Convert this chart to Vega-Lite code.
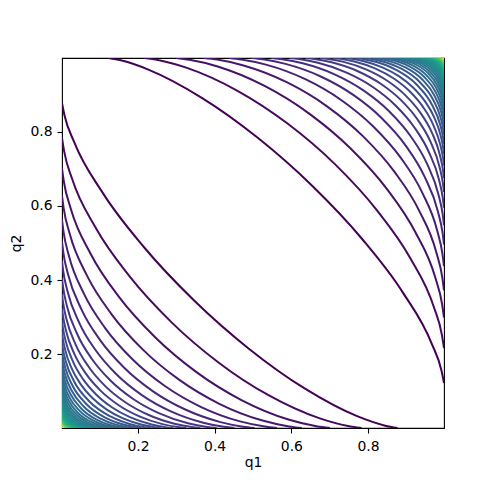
{
"$schema":"https://vega.github.io/schema/vega-lite/v6.json",
"autosize":"none",
"width":382,"height":370,
"padding":{"left":62,"top":58,"right":49,"bottom":52},
"background":"white",
"config":{"view":{"stroke":"black","strokeWidth":1.1},
"axis":{"domain":false,"grid":false,"tickColor":"black","tickWidth":1.1,"tickSize":5,"labelFont":"DejaVu Sans","labelFontSize":13.9,"labelColor":"black","titleFont":"DejaVu Sans","titleFontSize":13.9,"titleFontWeight":"normal","titleColor":"black"},
"axisX":{"labelPadding":6},"axisY":{"labelPadding":5}},
"data":{"values":[
{"l":1,"b":0,"x":0.0020,"y":0.8770},{"l":1,"b":0,"x":0.0083,"y":0.8447},{"l":1,"b":0,"x":0.0338,"y":0.7714},{"l":1,"b":0,"x":0.1091,"y":0.6335},{"l":1,"b":0,"x":0.2154,"y":0.4892},{"l":1,"b":0,"x":0.3458,"y":0.3458},{"l":1,"b":0,"x":0.4892,"y":0.2154},{"l":1,"b":0,"x":0.6335,"y":0.1091},{"l":1,"b":0,"x":0.7714,"y":0.0338},{"l":1,"b":0,"x":0.8447,"y":0.0083},{"l":1,"b":0,"x":0.8770,"y":0.0020},
{"l":1,"b":1,"x":0.9980,"y":0.1230},{"l":1,"b":1,"x":0.9917,"y":0.1553},{"l":1,"b":1,"x":0.9662,"y":0.2286},{"l":1,"b":1,"x":0.8909,"y":0.3665},{"l":1,"b":1,"x":0.7846,"y":0.5108},{"l":1,"b":1,"x":0.6542,"y":0.6542},{"l":1,"b":1,"x":0.5108,"y":0.7846},{"l":1,"b":1,"x":0.3665,"y":0.8909},{"l":1,"b":1,"x":0.2286,"y":0.9662},{"l":1,"b":1,"x":0.1553,"y":0.9917},{"l":1,"b":1,"x":0.1230,"y":0.9980},
{"l":2,"b":0,"x":0.0020,"y":0.7830},{"l":2,"b":0,"x":0.0074,"y":0.7478},{"l":2,"b":0,"x":0.0285,"y":0.6723},{"l":2,"b":0,"x":0.0902,"y":0.5404},{"l":2,"b":0,"x":0.1778,"y":0.4108},{"l":2,"b":0,"x":0.2871,"y":0.2871},{"l":2,"b":0,"x":0.4108,"y":0.1778},{"l":2,"b":0,"x":0.5404,"y":0.0902},{"l":2,"b":0,"x":0.6723,"y":0.0285},{"l":2,"b":0,"x":0.7478,"y":0.0074},{"l":2,"b":0,"x":0.7830,"y":0.0020},
{"l":2,"b":1,"x":0.9980,"y":0.2170},{"l":2,"b":1,"x":0.9926,"y":0.2522},{"l":2,"b":1,"x":0.9715,"y":0.3277},{"l":2,"b":1,"x":0.9098,"y":0.4596},{"l":2,"b":1,"x":0.8222,"y":0.5892},{"l":2,"b":1,"x":0.7129,"y":0.7129},{"l":2,"b":1,"x":0.5892,"y":0.8222},{"l":2,"b":1,"x":0.4596,"y":0.9098},{"l":2,"b":1,"x":0.3277,"y":0.9715},{"l":2,"b":1,"x":0.2522,"y":0.9926},{"l":2,"b":1,"x":0.2170,"y":0.9980},
{"l":3,"b":0,"x":0.0020,"y":0.7007},{"l":3,"b":0,"x":0.0068,"y":0.6655},{"l":3,"b":0,"x":0.0249,"y":0.5923},{"l":3,"b":0,"x":0.0772,"y":0.4698},{"l":3,"b":0,"x":0.1516,"y":0.3535},{"l":3,"b":0,"x":0.2455,"y":0.2455},{"l":3,"b":0,"x":0.3535,"y":0.1516},{"l":3,"b":0,"x":0.4698,"y":0.0772},{"l":3,"b":0,"x":0.5923,"y":0.0249},{"l":3,"b":0,"x":0.6655,"y":0.0068},{"l":3,"b":0,"x":0.7007,"y":0.0020},
{"l":3,"b":1,"x":0.9980,"y":0.2993},{"l":3,"b":1,"x":0.9932,"y":0.3345},{"l":3,"b":1,"x":0.9751,"y":0.4077},{"l":3,"b":1,"x":0.9228,"y":0.5302},{"l":3,"b":1,"x":0.8484,"y":0.6465},{"l":3,"b":1,"x":0.7545,"y":0.7545},{"l":3,"b":1,"x":0.6465,"y":0.8484},{"l":3,"b":1,"x":0.5302,"y":0.9228},{"l":3,"b":1,"x":0.4077,"y":0.9751},{"l":3,"b":1,"x":0.3345,"y":0.9932},{"l":3,"b":1,"x":0.2993,"y":0.9980},
{"l":4,"b":0,"x":0.0020,"y":0.6276},{"l":4,"b":0,"x":0.0063,"y":0.5937},{"l":4,"b":0,"x":0.0221,"y":0.5247},{"l":4,"b":0,"x":0.0672,"y":0.4121},{"l":4,"b":0,"x":0.1314,"y":0.3080},{"l":4,"b":0,"x":0.2129,"y":0.2129},{"l":4,"b":0,"x":0.3080,"y":0.1314},{"l":4,"b":0,"x":0.4121,"y":0.0672},{"l":4,"b":0,"x":0.5247,"y":0.0221},{"l":4,"b":0,"x":0.5937,"y":0.0063},{"l":4,"b":0,"x":0.6276,"y":0.0020},
{"l":4,"b":1,"x":0.9980,"y":0.3724},{"l":4,"b":1,"x":0.9937,"y":0.4063},{"l":4,"b":1,"x":0.9779,"y":0.4753},{"l":4,"b":1,"x":0.9328,"y":0.5879},{"l":4,"b":1,"x":0.8686,"y":0.6920},{"l":4,"b":1,"x":0.7871,"y":0.7871},{"l":4,"b":1,"x":0.6920,"y":0.8686},{"l":4,"b":1,"x":0.5879,"y":0.9328},{"l":4,"b":1,"x":0.4753,"y":0.9779},{"l":4,"b":1,"x":0.4063,"y":0.9937},{"l":4,"b":1,"x":0.3724,"y":0.9980},
{"l":5,"b":0,"x":0.0020,"y":0.5624},{"l":5,"b":0,"x":0.0059,"y":0.5305},{"l":5,"b":0,"x":0.0198,"y":0.4663},{"l":5,"b":0,"x":0.0591,"y":0.3636},{"l":5,"b":0,"x":0.1150,"y":0.2703},{"l":5,"b":0,"x":0.1864,"y":0.1864},{"l":5,"b":0,"x":0.2703,"y":0.1150},{"l":5,"b":0,"x":0.3636,"y":0.0591},{"l":5,"b":0,"x":0.4663,"y":0.0198},{"l":5,"b":0,"x":0.5305,"y":0.0059},{"l":5,"b":0,"x":0.5624,"y":0.0020},
{"l":5,"b":1,"x":0.9980,"y":0.4376},{"l":5,"b":1,"x":0.9941,"y":0.4695},{"l":5,"b":1,"x":0.9802,"y":0.5337},{"l":5,"b":1,"x":0.9409,"y":0.6364},{"l":5,"b":1,"x":0.8850,"y":0.7297},{"l":5,"b":1,"x":0.8136,"y":0.8136},{"l":5,"b":1,"x":0.7297,"y":0.8850},{"l":5,"b":1,"x":0.6364,"y":0.9409},{"l":5,"b":1,"x":0.5337,"y":0.9802},{"l":5,"b":1,"x":0.4695,"y":0.9941},{"l":5,"b":1,"x":0.4376,"y":0.9980},
{"l":6,"b":0,"x":0.0020,"y":0.5041},{"l":6,"b":0,"x":0.0055,"y":0.4744},{"l":6,"b":0,"x":0.0179,"y":0.4152},{"l":6,"b":0,"x":0.0524,"y":0.3220},{"l":6,"b":0,"x":0.1014,"y":0.2385},{"l":6,"b":0,"x":0.1642,"y":0.1642},{"l":6,"b":0,"x":0.2385,"y":0.1014},{"l":6,"b":0,"x":0.3220,"y":0.0524},{"l":6,"b":0,"x":0.4152,"y":0.0179},{"l":6,"b":0,"x":0.4744,"y":0.0055},{"l":6,"b":0,"x":0.5041,"y":0.0020},
{"l":6,"b":1,"x":0.9980,"y":0.4959},{"l":6,"b":1,"x":0.9945,"y":0.5256},{"l":6,"b":1,"x":0.9821,"y":0.5848},{"l":6,"b":1,"x":0.9476,"y":0.6780},{"l":6,"b":1,"x":0.8986,"y":0.7615},{"l":6,"b":1,"x":0.8358,"y":0.8358},{"l":6,"b":1,"x":0.7615,"y":0.8986},{"l":6,"b":1,"x":0.6780,"y":0.9476},{"l":6,"b":1,"x":0.5848,"y":0.9821},{"l":6,"b":1,"x":0.5256,"y":0.9945},{"l":6,"b":1,"x":0.4959,"y":0.9980},
{"l":7,"b":0,"x":0.0020,"y":0.4519},{"l":7,"b":0,"x":0.0052,"y":0.4244},{"l":7,"b":0,"x":0.0163,"y":0.3703},{"l":7,"b":0,"x":0.0467,"y":0.2859},{"l":7,"b":0,"x":0.0899,"y":0.2112},{"l":7,"b":0,"x":0.1452,"y":0.1452},{"l":7,"b":0,"x":0.2112,"y":0.0899},{"l":7,"b":0,"x":0.2859,"y":0.0467},{"l":7,"b":0,"x":0.3703,"y":0.0163},{"l":7,"b":0,"x":0.4244,"y":0.0052},{"l":7,"b":0,"x":0.4519,"y":0.0020},
{"l":7,"b":1,"x":0.9980,"y":0.5481},{"l":7,"b":1,"x":0.9948,"y":0.5756},{"l":7,"b":1,"x":0.9837,"y":0.6297},{"l":7,"b":1,"x":0.9533,"y":0.7141},{"l":7,"b":1,"x":0.9101,"y":0.7888},{"l":7,"b":1,"x":0.8548,"y":0.8548},{"l":7,"b":1,"x":0.7888,"y":0.9101},{"l":7,"b":1,"x":0.7141,"y":0.9533},{"l":7,"b":1,"x":0.6297,"y":0.9837},{"l":7,"b":1,"x":0.5756,"y":0.9948},{"l":7,"b":1,"x":0.5481,"y":0.9980},
{"l":8,"b":0,"x":0.0020,"y":0.4051},{"l":8,"b":0,"x":0.0050,"y":0.3799},{"l":8,"b":0,"x":0.0148,"y":0.3305},{"l":8,"b":0,"x":0.0419,"y":0.2544},{"l":8,"b":0,"x":0.0800,"y":0.1876},{"l":8,"b":0,"x":0.1290,"y":0.1290},{"l":8,"b":0,"x":0.1876,"y":0.0800},{"l":8,"b":0,"x":0.2544,"y":0.0419},{"l":8,"b":0,"x":0.3305,"y":0.0148},{"l":8,"b":0,"x":0.3799,"y":0.0050},{"l":8,"b":0,"x":0.4051,"y":0.0020},
{"l":8,"b":1,"x":0.9980,"y":0.5949},{"l":8,"b":1,"x":0.9950,"y":0.6201},{"l":8,"b":1,"x":0.9852,"y":0.6695},{"l":8,"b":1,"x":0.9581,"y":0.7456},{"l":8,"b":1,"x":0.9200,"y":0.8124},{"l":8,"b":1,"x":0.8710,"y":0.8710},{"l":8,"b":1,"x":0.8124,"y":0.9200},{"l":8,"b":1,"x":0.7456,"y":0.9581},{"l":8,"b":1,"x":0.6695,"y":0.9852},{"l":8,"b":1,"x":0.6201,"y":0.9950},{"l":8,"b":1,"x":0.5949,"y":0.9980},
{"l":9,"b":0,"x":0.0020,"y":0.3630},{"l":9,"b":0,"x":0.0047,"y":0.3401},{"l":9,"b":0,"x":0.0136,"y":0.2953},{"l":9,"b":0,"x":0.0376,"y":0.2267},{"l":9,"b":0,"x":0.0714,"y":0.1670},{"l":9,"b":0,"x":0.1148,"y":0.1148},{"l":9,"b":0,"x":0.1670,"y":0.0714},{"l":9,"b":0,"x":0.2267,"y":0.0376},{"l":9,"b":0,"x":0.2953,"y":0.0136},{"l":9,"b":0,"x":0.3401,"y":0.0047},{"l":9,"b":0,"x":0.3630,"y":0.0020},
{"l":9,"b":1,"x":0.9980,"y":0.6370},{"l":9,"b":1,"x":0.9953,"y":0.6599},{"l":9,"b":1,"x":0.9864,"y":0.7047},{"l":9,"b":1,"x":0.9624,"y":0.7733},{"l":9,"b":1,"x":0.9286,"y":0.8330},{"l":9,"b":1,"x":0.8852,"y":0.8852},{"l":9,"b":1,"x":0.8330,"y":0.9286},{"l":9,"b":1,"x":0.7733,"y":0.9624},{"l":9,"b":1,"x":0.7047,"y":0.9864},{"l":9,"b":1,"x":0.6599,"y":0.9953},{"l":9,"b":1,"x":0.6370,"y":0.9980},
{"l":10,"b":0,"x":0.0020,"y":0.3253},{"l":10,"b":0,"x":0.0045,"y":0.3044},{"l":10,"b":0,"x":0.0125,"y":0.2639},{"l":10,"b":0,"x":0.0339,"y":0.2022},{"l":10,"b":0,"x":0.0639,"y":0.1489},{"l":10,"b":0,"x":0.1025,"y":0.1025},{"l":10,"b":0,"x":0.1489,"y":0.0639},{"l":10,"b":0,"x":0.2022,"y":0.0339},{"l":10,"b":0,"x":0.2639,"y":0.0125},{"l":10,"b":0,"x":0.3044,"y":0.0045},{"l":10,"b":0,"x":0.3253,"y":0.0020},
{"l":10,"b":1,"x":0.9980,"y":0.6747},{"l":10,"b":1,"x":0.9955,"y":0.6956},{"l":10,"b":1,"x":0.9875,"y":0.7361},{"l":10,"b":1,"x":0.9661,"y":0.7978},{"l":10,"b":1,"x":0.9361,"y":0.8511},{"l":10,"b":1,"x":0.8975,"y":0.8975},{"l":10,"b":1,"x":0.8511,"y":0.9361},{"l":10,"b":1,"x":0.7978,"y":0.9661},{"l":10,"b":1,"x":0.7361,"y":0.9875},{"l":10,"b":1,"x":0.6956,"y":0.9955},{"l":10,"b":1,"x":0.6747,"y":0.9980},
{"l":11,"b":0,"x":0.0020,"y":0.2914},{"l":11,"b":0,"x":0.0043,"y":0.2725},{"l":11,"b":0,"x":0.0116,"y":0.2359},{"l":11,"b":0,"x":0.0307,"y":0.1806},{"l":11,"b":0,"x":0.0573,"y":0.1329},{"l":11,"b":0,"x":0.0916,"y":0.0916},{"l":11,"b":0,"x":0.1329,"y":0.0573},{"l":11,"b":0,"x":0.1806,"y":0.0307},{"l":11,"b":0,"x":0.2359,"y":0.0116},{"l":11,"b":0,"x":0.2725,"y":0.0043},{"l":11,"b":0,"x":0.2914,"y":0.0020},
{"l":11,"b":1,"x":0.9980,"y":0.7086},{"l":11,"b":1,"x":0.9957,"y":0.7275},{"l":11,"b":1,"x":0.9884,"y":0.7641},{"l":11,"b":1,"x":0.9693,"y":0.8194},{"l":11,"b":1,"x":0.9427,"y":0.8671},{"l":11,"b":1,"x":0.9084,"y":0.9084},{"l":11,"b":1,"x":0.8671,"y":0.9427},{"l":11,"b":1,"x":0.8194,"y":0.9693},{"l":11,"b":1,"x":0.7641,"y":0.9884},{"l":11,"b":1,"x":0.7275,"y":0.9957},{"l":11,"b":1,"x":0.7086,"y":0.9980},
{"l":12,"b":0,"x":0.0020,"y":0.2610},{"l":12,"b":0,"x":0.0041,"y":0.2439},{"l":12,"b":0,"x":0.0107,"y":0.2110},{"l":12,"b":0,"x":0.0278,"y":0.1613},{"l":12,"b":0,"x":0.0515,"y":0.1188},{"l":12,"b":0,"x":0.0820,"y":0.0820},{"l":12,"b":0,"x":0.1188,"y":0.0515},{"l":12,"b":0,"x":0.1613,"y":0.0278},{"l":12,"b":0,"x":0.2110,"y":0.0107},{"l":12,"b":0,"x":0.2439,"y":0.0041},{"l":12,"b":0,"x":0.2610,"y":0.0020},
{"l":12,"b":1,"x":0.9980,"y":0.7390},{"l":12,"b":1,"x":0.9959,"y":0.7561},{"l":12,"b":1,"x":0.9893,"y":0.7890},{"l":12,"b":1,"x":0.9722,"y":0.8387},{"l":12,"b":1,"x":0.9485,"y":0.8812},{"l":12,"b":1,"x":0.9180,"y":0.9180},{"l":12,"b":1,"x":0.8812,"y":0.9485},{"l":12,"b":1,"x":0.8387,"y":0.9722},{"l":12,"b":1,"x":0.7890,"y":0.9893},{"l":12,"b":1,"x":0.7561,"y":0.9959},{"l":12,"b":1,"x":0.7390,"y":0.9980},
{"l":13,"b":0,"x":0.0020,"y":0.2337},{"l":13,"b":0,"x":0.0046,"y":0.2145},{"l":13,"b":0,"x":0.0129,"y":0.1780},{"l":13,"b":0,"x":0.0330,"y":0.1285},{"l":13,"b":0,"x":0.0735,"y":0.0735},{"l":13,"b":0,"x":0.1285,"y":0.0330},{"l":13,"b":0,"x":0.1780,"y":0.0129},{"l":13,"b":0,"x":0.2145,"y":0.0046},{"l":13,"b":0,"x":0.2337,"y":0.0020},
{"l":13,"b":1,"x":0.9980,"y":0.7663},{"l":13,"b":1,"x":0.9954,"y":0.7855},{"l":13,"b":1,"x":0.9871,"y":0.8220},{"l":13,"b":1,"x":0.9670,"y":0.8715},{"l":13,"b":1,"x":0.9265,"y":0.9265},{"l":13,"b":1,"x":0.8715,"y":0.9670},{"l":13,"b":1,"x":0.8220,"y":0.9871},{"l":13,"b":1,"x":0.7855,"y":0.9954},{"l":13,"b":1,"x":0.7663,"y":0.9980},
{"l":14,"b":0,"x":0.0020,"y":0.2091},{"l":14,"b":0,"x":0.0044,"y":0.1919},{"l":14,"b":0,"x":0.0119,"y":0.1592},{"l":14,"b":0,"x":0.0299,"y":0.1149},{"l":14,"b":0,"x":0.0660,"y":0.0660},{"l":14,"b":0,"x":0.1149,"y":0.0299},{"l":14,"b":0,"x":0.1592,"y":0.0119},{"l":14,"b":0,"x":0.1919,"y":0.0044},{"l":14,"b":0,"x":0.2091,"y":0.0020},
{"l":14,"b":1,"x":0.9980,"y":0.7909},{"l":14,"b":1,"x":0.9956,"y":0.8081},{"l":14,"b":1,"x":0.9881,"y":0.8408},{"l":14,"b":1,"x":0.9701,"y":0.8851},{"l":14,"b":1,"x":0.9340,"y":0.9340},{"l":14,"b":1,"x":0.8851,"y":0.9701},{"l":14,"b":1,"x":0.8408,"y":0.9881},{"l":14,"b":1,"x":0.8081,"y":0.9956},{"l":14,"b":1,"x":0.7909,"y":0.9980},
{"l":15,"b":0,"x":0.0020,"y":0.1870},{"l":15,"b":0,"x":0.0042,"y":0.1716},{"l":15,"b":0,"x":0.0110,"y":0.1423},{"l":15,"b":0,"x":0.0271,"y":0.1029},{"l":15,"b":0,"x":0.0593,"y":0.0593},{"l":15,"b":0,"x":0.1029,"y":0.0271},{"l":15,"b":0,"x":0.1423,"y":0.0110},{"l":15,"b":0,"x":0.1716,"y":0.0042},{"l":15,"b":0,"x":0.1870,"y":0.0020},
{"l":15,"b":1,"x":0.9980,"y":0.8130},{"l":15,"b":1,"x":0.9958,"y":0.8284},{"l":15,"b":1,"x":0.9890,"y":0.8577},{"l":15,"b":1,"x":0.9729,"y":0.8971},{"l":15,"b":1,"x":0.9407,"y":0.9407},{"l":15,"b":1,"x":0.8971,"y":0.9729},{"l":15,"b":1,"x":0.8577,"y":0.9890},{"l":15,"b":1,"x":0.8284,"y":0.9958},{"l":15,"b":1,"x":0.8130,"y":0.9980},
{"l":16,"b":0,"x":0.0020,"y":0.1672},{"l":16,"b":0,"x":0.0040,"y":0.1534},{"l":16,"b":0,"x":0.0102,"y":0.1273},{"l":16,"b":0,"x":0.0247,"y":0.0921},{"l":16,"b":0,"x":0.0533,"y":0.0533},{"l":16,"b":0,"x":0.0921,"y":0.0247},{"l":16,"b":0,"x":0.1273,"y":0.0102},{"l":16,"b":0,"x":0.1534,"y":0.0040},{"l":16,"b":0,"x":0.1672,"y":0.0020},
{"l":16,"b":1,"x":0.9980,"y":0.8328},{"l":16,"b":1,"x":0.9960,"y":0.8466},{"l":16,"b":1,"x":0.9898,"y":0.8727},{"l":16,"b":1,"x":0.9753,"y":0.9079},{"l":16,"b":1,"x":0.9467,"y":0.9467},{"l":16,"b":1,"x":0.9079,"y":0.9753},{"l":16,"b":1,"x":0.8727,"y":0.9898},{"l":16,"b":1,"x":0.8466,"y":0.9960},{"l":16,"b":1,"x":0.8328,"y":0.9980},
{"l":17,"b":0,"x":0.0020,"y":0.1494},{"l":17,"b":0,"x":0.0039,"y":0.1371},{"l":17,"b":0,"x":0.0095,"y":0.1138},{"l":17,"b":0,"x":0.0224,"y":0.0825},{"l":17,"b":0,"x":0.0480,"y":0.0480},{"l":17,"b":0,"x":0.0825,"y":0.0224},{"l":17,"b":0,"x":0.1138,"y":0.0095},{"l":17,"b":0,"x":0.1371,"y":0.0039},{"l":17,"b":0,"x":0.1494,"y":0.0020},
{"l":17,"b":1,"x":0.9980,"y":0.8506},{"l":17,"b":1,"x":0.9961,"y":0.8629},{"l":17,"b":1,"x":0.9905,"y":0.8862},{"l":17,"b":1,"x":0.9776,"y":0.9175},{"l":17,"b":1,"x":0.9520,"y":0.9520},{"l":17,"b":1,"x":0.9175,"y":0.9776},{"l":17,"b":1,"x":0.8862,"y":0.9905},{"l":17,"b":1,"x":0.8629,"y":0.9961},{"l":17,"b":1,"x":0.8506,"y":0.9980},
{"l":18,"b":0,"x":0.0020,"y":0.1334},{"l":18,"b":0,"x":0.0037,"y":0.1225},{"l":18,"b":0,"x":0.0088,"y":0.1017},{"l":18,"b":0,"x":0.0205,"y":0.0738},{"l":18,"b":0,"x":0.0432,"y":0.0432},{"l":18,"b":0,"x":0.0738,"y":0.0205},{"l":18,"b":0,"x":0.1017,"y":0.0088},{"l":18,"b":0,"x":0.1225,"y":0.0037},{"l":18,"b":0,"x":0.1334,"y":0.0020},
{"l":18,"b":1,"x":0.9980,"y":0.8666},{"l":18,"b":1,"x":0.9963,"y":0.8775},{"l":18,"b":1,"x":0.9912,"y":0.8983},{"l":18,"b":1,"x":0.9795,"y":0.9262},{"l":18,"b":1,"x":0.9568,"y":0.9568},{"l":18,"b":1,"x":0.9262,"y":0.9795},{"l":18,"b":1,"x":0.8983,"y":0.9912},{"l":18,"b":1,"x":0.8775,"y":0.9963},{"l":18,"b":1,"x":0.8666,"y":0.9980},
{"l":19,"b":0,"x":0.0020,"y":0.1191},{"l":19,"b":0,"x":0.0036,"y":0.1093},{"l":19,"b":0,"x":0.0082,"y":0.0909},{"l":19,"b":0,"x":0.0187,"y":0.0661},{"l":19,"b":0,"x":0.0389,"y":0.0389},{"l":19,"b":0,"x":0.0661,"y":0.0187},{"l":19,"b":0,"x":0.0909,"y":0.0082},{"l":19,"b":0,"x":0.1093,"y":0.0036},{"l":19,"b":0,"x":0.1191,"y":0.0020},
{"l":19,"b":1,"x":0.9980,"y":0.8809},{"l":19,"b":1,"x":0.9964,"y":0.8907},{"l":19,"b":1,"x":0.9918,"y":0.9091},{"l":19,"b":1,"x":0.9813,"y":0.9339},{"l":19,"b":1,"x":0.9611,"y":0.9611},{"l":19,"b":1,"x":0.9339,"y":0.9813},{"l":19,"b":1,"x":0.9091,"y":0.9918},{"l":19,"b":1,"x":0.8907,"y":0.9964},{"l":19,"b":1,"x":0.8809,"y":0.9980},
{"l":20,"b":0,"x":0.0020,"y":0.1062},{"l":20,"b":0,"x":0.0035,"y":0.0975},{"l":20,"b":0,"x":0.0077,"y":0.0812},{"l":20,"b":0,"x":0.0170,"y":0.0592},{"l":20,"b":0,"x":0.0351,"y":0.0351},{"l":20,"b":0,"x":0.0592,"y":0.0170},{"l":20,"b":0,"x":0.0812,"y":0.0077},{"l":20,"b":0,"x":0.0975,"y":0.0035},{"l":20,"b":0,"x":0.1062,"y":0.0020},
{"l":20,"b":1,"x":0.9980,"y":0.8938},{"l":20,"b":1,"x":0.9965,"y":0.9025},{"l":20,"b":1,"x":0.9923,"y":0.9188},{"l":20,"b":1,"x":0.9830,"y":0.9408},{"l":20,"b":1,"x":0.9649,"y":0.9649},{"l":20,"b":1,"x":0.9408,"y":0.9830},{"l":20,"b":1,"x":0.9188,"y":0.9923},{"l":20,"b":1,"x":0.9025,"y":0.9965},{"l":20,"b":1,"x":0.8938,"y":0.9980},
{"l":21,"b":0,"x":0.0020,"y":0.0947},{"l":21,"b":0,"x":0.0034,"y":0.0870},{"l":21,"b":0,"x":0.0072,"y":0.0725},{"l":21,"b":0,"x":0.0156,"y":0.0530},{"l":21,"b":0,"x":0.0316,"y":0.0316},{"l":21,"b":0,"x":0.0530,"y":0.0156},{"l":21,"b":0,"x":0.0725,"y":0.0072},{"l":21,"b":0,"x":0.0870,"y":0.0034},{"l":21,"b":0,"x":0.0947,"y":0.0020},
{"l":21,"b":1,"x":0.9980,"y":0.9053},{"l":21,"b":1,"x":0.9966,"y":0.9130},{"l":21,"b":1,"x":0.9928,"y":0.9275},{"l":21,"b":1,"x":0.9844,"y":0.9470},{"l":21,"b":1,"x":0.9684,"y":0.9684},{"l":21,"b":1,"x":0.9470,"y":0.9844},{"l":21,"b":1,"x":0.9275,"y":0.9928},{"l":21,"b":1,"x":0.9130,"y":0.9966},{"l":21,"b":1,"x":0.9053,"y":0.9980},
{"l":22,"b":0,"x":0.0020,"y":0.0843},{"l":22,"b":0,"x":0.0033,"y":0.0775},{"l":22,"b":0,"x":0.0067,"y":0.0647},{"l":22,"b":0,"x":0.0143,"y":0.0475},{"l":22,"b":0,"x":0.0285,"y":0.0285},{"l":22,"b":0,"x":0.0475,"y":0.0143},{"l":22,"b":0,"x":0.0647,"y":0.0067},{"l":22,"b":0,"x":0.0775,"y":0.0033},{"l":22,"b":0,"x":0.0843,"y":0.0020},
{"l":22,"b":1,"x":0.9980,"y":0.9157},{"l":22,"b":1,"x":0.9967,"y":0.9225},{"l":22,"b":1,"x":0.9933,"y":0.9353},{"l":22,"b":1,"x":0.9857,"y":0.9525},{"l":22,"b":1,"x":0.9715,"y":0.9715},{"l":22,"b":1,"x":0.9525,"y":0.9857},{"l":22,"b":1,"x":0.9353,"y":0.9933},{"l":22,"b":1,"x":0.9225,"y":0.9967},{"l":22,"b":1,"x":0.9157,"y":0.9980},
{"l":23,"b":0,"x":0.0020,"y":0.0750},{"l":23,"b":0,"x":0.0032,"y":0.0690},{"l":23,"b":0,"x":0.0063,"y":0.0577},{"l":23,"b":0,"x":0.0131,"y":0.0425},{"l":23,"b":0,"x":0.0257,"y":0.0257},{"l":23,"b":0,"x":0.0425,"y":0.0131},{"l":23,"b":0,"x":0.0577,"y":0.0063},{"l":23,"b":0,"x":0.0690,"y":0.0032},{"l":23,"b":0,"x":0.0750,"y":0.0020},
{"l":23,"b":1,"x":0.9980,"y":0.9250},{"l":23,"b":1,"x":0.9968,"y":0.9310},{"l":23,"b":1,"x":0.9937,"y":0.9423},{"l":23,"b":1,"x":0.9869,"y":0.9575},{"l":23,"b":1,"x":0.9743,"y":0.9743},{"l":23,"b":1,"x":0.9575,"y":0.9869},{"l":23,"b":1,"x":0.9423,"y":0.9937},{"l":23,"b":1,"x":0.9310,"y":0.9968},{"l":23,"b":1,"x":0.9250,"y":0.9980},
{"l":24,"b":0,"x":0.0020,"y":0.0667},{"l":24,"b":0,"x":0.0031,"y":0.0614},{"l":24,"b":0,"x":0.0060,"y":0.0514},{"l":24,"b":0,"x":0.0120,"y":0.0380},{"l":24,"b":0,"x":0.0232,"y":0.0232},{"l":24,"b":0,"x":0.0380,"y":0.0120},{"l":24,"b":0,"x":0.0514,"y":0.0060},{"l":24,"b":0,"x":0.0614,"y":0.0031},{"l":24,"b":0,"x":0.0667,"y":0.0020},
{"l":24,"b":1,"x":0.9980,"y":0.9333},{"l":24,"b":1,"x":0.9969,"y":0.9386},{"l":24,"b":1,"x":0.9940,"y":0.9486},{"l":24,"b":1,"x":0.9880,"y":0.9620},{"l":24,"b":1,"x":0.9768,"y":0.9768},{"l":24,"b":1,"x":0.9620,"y":0.9880},{"l":24,"b":1,"x":0.9486,"y":0.9940},{"l":24,"b":1,"x":0.9386,"y":0.9969},{"l":24,"b":1,"x":0.9333,"y":0.9980},
{"l":25,"b":0,"x":0.0020,"y":0.0592},{"l":25,"b":0,"x":0.0042,"y":0.0501},{"l":25,"b":0,"x":0.0110,"y":0.0340},{"l":25,"b":0,"x":0.0210,"y":0.0210},{"l":25,"b":0,"x":0.0340,"y":0.0110},{"l":25,"b":0,"x":0.0501,"y":0.0042},{"l":25,"b":0,"x":0.0592,"y":0.0020},
{"l":25,"b":1,"x":0.9980,"y":0.9408},{"l":25,"b":1,"x":0.9958,"y":0.9499},{"l":25,"b":1,"x":0.9890,"y":0.9660},{"l":25,"b":1,"x":0.9790,"y":0.9790},{"l":25,"b":1,"x":0.9660,"y":0.9890},{"l":25,"b":1,"x":0.9499,"y":0.9958},{"l":25,"b":1,"x":0.9408,"y":0.9980},
{"l":26,"b":0,"x":0.0020,"y":0.0526},{"l":26,"b":0,"x":0.0040,"y":0.0445},{"l":26,"b":0,"x":0.0101,"y":0.0304},{"l":26,"b":0,"x":0.0189,"y":0.0189},{"l":26,"b":0,"x":0.0304,"y":0.0101},{"l":26,"b":0,"x":0.0445,"y":0.0040},{"l":26,"b":0,"x":0.0526,"y":0.0020},
{"l":26,"b":1,"x":0.9980,"y":0.9474},{"l":26,"b":1,"x":0.9960,"y":0.9555},{"l":26,"b":1,"x":0.9899,"y":0.9696},{"l":26,"b":1,"x":0.9811,"y":0.9811},{"l":26,"b":1,"x":0.9696,"y":0.9899},{"l":26,"b":1,"x":0.9555,"y":0.9960},{"l":26,"b":1,"x":0.9474,"y":0.9980},
{"l":27,"b":0,"x":0.0020,"y":0.0466},{"l":27,"b":0,"x":0.0038,"y":0.0396},{"l":27,"b":0,"x":0.0093,"y":0.0272},{"l":27,"b":0,"x":0.0171,"y":0.0171},{"l":27,"b":0,"x":0.0272,"y":0.0093},{"l":27,"b":0,"x":0.0396,"y":0.0038},{"l":27,"b":0,"x":0.0466,"y":0.0020},
{"l":27,"b":1,"x":0.9980,"y":0.9534},{"l":27,"b":1,"x":0.9962,"y":0.9604},{"l":27,"b":1,"x":0.9907,"y":0.9728},{"l":27,"b":1,"x":0.9829,"y":0.9829},{"l":27,"b":1,"x":0.9728,"y":0.9907},{"l":27,"b":1,"x":0.9604,"y":0.9962},{"l":27,"b":1,"x":0.9534,"y":0.9980},
{"l":28,"b":0,"x":0.0020,"y":0.0412},{"l":28,"b":0,"x":0.0037,"y":0.0351},{"l":28,"b":0,"x":0.0086,"y":0.0243},{"l":28,"b":0,"x":0.0154,"y":0.0154},{"l":28,"b":0,"x":0.0243,"y":0.0086},{"l":28,"b":0,"x":0.0351,"y":0.0037},{"l":28,"b":0,"x":0.0412,"y":0.0020},
{"l":28,"b":1,"x":0.9980,"y":0.9588},{"l":28,"b":1,"x":0.9963,"y":0.9649},{"l":28,"b":1,"x":0.9914,"y":0.9757},{"l":28,"b":1,"x":0.9846,"y":0.9846},{"l":28,"b":1,"x":0.9757,"y":0.9914},{"l":28,"b":1,"x":0.9649,"y":0.9963},{"l":28,"b":1,"x":0.9588,"y":0.9980},
{"l":29,"b":0,"x":0.0020,"y":0.0364},{"l":29,"b":0,"x":0.0035,"y":0.0311},{"l":29,"b":0,"x":0.0079,"y":0.0217},{"l":29,"b":0,"x":0.0140,"y":0.0140},{"l":29,"b":0,"x":0.0217,"y":0.0079},{"l":29,"b":0,"x":0.0311,"y":0.0035},{"l":29,"b":0,"x":0.0364,"y":0.0020},
{"l":29,"b":1,"x":0.9980,"y":0.9636},{"l":29,"b":1,"x":0.9965,"y":0.9689},{"l":29,"b":1,"x":0.9921,"y":0.9783},{"l":29,"b":1,"x":0.9860,"y":0.9860},{"l":29,"b":1,"x":0.9783,"y":0.9921},{"l":29,"b":1,"x":0.9689,"y":0.9965},{"l":29,"b":1,"x":0.9636,"y":0.9980},
{"l":30,"b":0,"x":0.0020,"y":0.0322},{"l":30,"b":0,"x":0.0034,"y":0.0275},{"l":30,"b":0,"x":0.0073,"y":0.0194},{"l":30,"b":0,"x":0.0126,"y":0.0126},{"l":30,"b":0,"x":0.0194,"y":0.0073},{"l":30,"b":0,"x":0.0275,"y":0.0034},{"l":30,"b":0,"x":0.0322,"y":0.0020},
{"l":30,"b":1,"x":0.9980,"y":0.9678},{"l":30,"b":1,"x":0.9966,"y":0.9725},{"l":30,"b":1,"x":0.9927,"y":0.9806},{"l":30,"b":1,"x":0.9874,"y":0.9874},{"l":30,"b":1,"x":0.9806,"y":0.9927},{"l":30,"b":1,"x":0.9725,"y":0.9966},{"l":30,"b":1,"x":0.9678,"y":0.9980},
{"l":31,"b":0,"x":0.0020,"y":0.0283},{"l":31,"b":0,"x":0.0033,"y":0.0244},{"l":31,"b":0,"x":0.0067,"y":0.0173},{"l":31,"b":0,"x":0.0114,"y":0.0114},{"l":31,"b":0,"x":0.0173,"y":0.0067},{"l":31,"b":0,"x":0.0244,"y":0.0033},{"l":31,"b":0,"x":0.0283,"y":0.0020},
{"l":31,"b":1,"x":0.9980,"y":0.9717},{"l":31,"b":1,"x":0.9967,"y":0.9756},{"l":31,"b":1,"x":0.9933,"y":0.9827},{"l":31,"b":1,"x":0.9886,"y":0.9886},{"l":31,"b":1,"x":0.9827,"y":0.9933},{"l":31,"b":1,"x":0.9756,"y":0.9967},{"l":31,"b":1,"x":0.9717,"y":0.9980},
{"l":32,"b":0,"x":0.0020,"y":0.0249},{"l":32,"b":0,"x":0.0031,"y":0.0215},{"l":32,"b":0,"x":0.0062,"y":0.0154},{"l":32,"b":0,"x":0.0103,"y":0.0103},{"l":32,"b":0,"x":0.0154,"y":0.0062},{"l":32,"b":0,"x":0.0215,"y":0.0031},{"l":32,"b":0,"x":0.0249,"y":0.0020},
{"l":32,"b":1,"x":0.9980,"y":0.9751},{"l":32,"b":1,"x":0.9969,"y":0.9785},{"l":32,"b":1,"x":0.9938,"y":0.9846},{"l":32,"b":1,"x":0.9897,"y":0.9897},{"l":32,"b":1,"x":0.9846,"y":0.9938},{"l":32,"b":1,"x":0.9785,"y":0.9969},{"l":32,"b":1,"x":0.9751,"y":0.9980},
{"l":33,"b":0,"x":0.0020,"y":0.0219},{"l":33,"b":0,"x":0.0030,"y":0.0190},{"l":33,"b":0,"x":0.0057,"y":0.0137},{"l":33,"b":0,"x":0.0093,"y":0.0093},{"l":33,"b":0,"x":0.0137,"y":0.0057},{"l":33,"b":0,"x":0.0190,"y":0.0030},{"l":33,"b":0,"x":0.0219,"y":0.0020},
{"l":33,"b":1,"x":0.9980,"y":0.9781},{"l":33,"b":1,"x":0.9970,"y":0.9810},{"l":33,"b":1,"x":0.9943,"y":0.9863},{"l":33,"b":1,"x":0.9907,"y":0.9907},{"l":33,"b":1,"x":0.9863,"y":0.9943},{"l":33,"b":1,"x":0.9810,"y":0.9970},{"l":33,"b":1,"x":0.9781,"y":0.9980},
{"l":34,"b":0,"x":0.0020,"y":0.0192},{"l":34,"b":0,"x":0.0029,"y":0.0167},{"l":34,"b":0,"x":0.0053,"y":0.0122},{"l":34,"b":0,"x":0.0084,"y":0.0084},{"l":34,"b":0,"x":0.0122,"y":0.0053},{"l":34,"b":0,"x":0.0167,"y":0.0029},{"l":34,"b":0,"x":0.0192,"y":0.0020},
{"l":34,"b":1,"x":0.9980,"y":0.9808},{"l":34,"b":1,"x":0.9971,"y":0.9833},{"l":34,"b":1,"x":0.9947,"y":0.9878},{"l":34,"b":1,"x":0.9916,"y":0.9916},{"l":34,"b":1,"x":0.9878,"y":0.9947},{"l":34,"b":1,"x":0.9833,"y":0.9971},{"l":34,"b":1,"x":0.9808,"y":0.9980},
{"l":35,"b":0,"x":0.0020,"y":0.0168},{"l":35,"b":0,"x":0.0028,"y":0.0147},{"l":35,"b":0,"x":0.0049,"y":0.0109},{"l":35,"b":0,"x":0.0076,"y":0.0076},{"l":35,"b":0,"x":0.0109,"y":0.0049},{"l":35,"b":0,"x":0.0147,"y":0.0028},{"l":35,"b":0,"x":0.0168,"y":0.0020},
{"l":35,"b":1,"x":0.9980,"y":0.9832},{"l":35,"b":1,"x":0.9972,"y":0.9853},{"l":35,"b":1,"x":0.9951,"y":0.9891},{"l":35,"b":1,"x":0.9924,"y":0.9924},{"l":35,"b":1,"x":0.9891,"y":0.9951},{"l":35,"b":1,"x":0.9853,"y":0.9972},{"l":35,"b":1,"x":0.9832,"y":0.9980},
{"l":36,"b":0,"x":0.0020,"y":0.01465},{"l":36,"b":0,"x":0.00688,"y":0.00688},{"l":36,"b":0,"x":0.01465,"y":0.0020},
{"l":36,"b":1,"x":0.9980,"y":0.98535},{"l":36,"b":1,"x":0.99312,"y":0.99312},{"l":36,"b":1,"x":0.98535,"y":0.9980},
{"l":37,"b":0,"x":0.0020,"y":0.01275},{"l":37,"b":0,"x":0.00622,"y":0.00622},{"l":37,"b":0,"x":0.01275,"y":0.0020},
{"l":37,"b":1,"x":0.9980,"y":0.98725},{"l":37,"b":1,"x":0.99378,"y":0.99378},{"l":37,"b":1,"x":0.98725,"y":0.9980},
{"l":38,"b":0,"x":0.0020,"y":0.01107},{"l":38,"b":0,"x":0.00562,"y":0.00562},{"l":38,"b":0,"x":0.01107,"y":0.0020},
{"l":38,"b":1,"x":0.9980,"y":0.98893},{"l":38,"b":1,"x":0.99438,"y":0.99438},{"l":38,"b":1,"x":0.98893,"y":0.9980},
{"l":39,"b":0,"x":0.0020,"y":0.00958},{"l":39,"b":0,"x":0.00509,"y":0.00509},{"l":39,"b":0,"x":0.00958,"y":0.0020},
{"l":39,"b":1,"x":0.9980,"y":0.99042},{"l":39,"b":1,"x":0.99491,"y":0.99491},{"l":39,"b":1,"x":0.99042,"y":0.9980},
{"l":40,"b":0,"x":0.0020,"y":0.00826},{"l":40,"b":0,"x":0.00460,"y":0.00460},{"l":40,"b":0,"x":0.00826,"y":0.0020},
{"l":40,"b":1,"x":0.9980,"y":0.99174},{"l":40,"b":1,"x":0.99540,"y":0.99540},{"l":40,"b":1,"x":0.99174,"y":0.9980},
{"l":41,"b":0,"x":0.0020,"y":0.00710},{"l":41,"b":0,"x":0.00416,"y":0.00416},{"l":41,"b":0,"x":0.00710,"y":0.0020},
{"l":41,"b":1,"x":0.9980,"y":0.99290},{"l":41,"b":1,"x":0.99584,"y":0.99584},{"l":41,"b":1,"x":0.99290,"y":0.9980},
{"l":42,"b":0,"x":0.0020,"y":0.00608},{"l":42,"b":0,"x":0.00376,"y":0.00376},{"l":42,"b":0,"x":0.00608,"y":0.0020},
{"l":42,"b":1,"x":0.9980,"y":0.99392},{"l":42,"b":1,"x":0.99624,"y":0.99624},{"l":42,"b":1,"x":0.99392,"y":0.9980},
{"l":43,"b":0,"x":0.0020,"y":0.00518},{"l":43,"b":0,"x":0.00340,"y":0.00340},{"l":43,"b":0,"x":0.00518,"y":0.0020},
{"l":43,"b":1,"x":0.9980,"y":0.99482},{"l":43,"b":1,"x":0.99660,"y":0.99660},{"l":43,"b":1,"x":0.99482,"y":0.9980},
{"l":44,"b":0,"x":0.0020,"y":0.00439},{"l":44,"b":0,"x":0.00308,"y":0.00308},{"l":44,"b":0,"x":0.00439,"y":0.0020},
{"l":44,"b":1,"x":0.9980,"y":0.99561},{"l":44,"b":1,"x":0.99692,"y":0.99692},{"l":44,"b":1,"x":0.99561,"y":0.9980},
{"l":45,"b":0,"x":0.0020,"y":0.00370},{"l":45,"b":0,"x":0.00279,"y":0.00279},{"l":45,"b":0,"x":0.00370,"y":0.0020},
{"l":45,"b":1,"x":0.9980,"y":0.99630},{"l":45,"b":1,"x":0.99721,"y":0.99721},{"l":45,"b":1,"x":0.99630,"y":0.9980},
{"l":46,"b":0,"x":0.0020,"y":0.00310},{"l":46,"b":0,"x":0.00252,"y":0.00252},{"l":46,"b":0,"x":0.00310,"y":0.0020},
{"l":46,"b":1,"x":0.9980,"y":0.99690},{"l":46,"b":1,"x":0.99748,"y":0.99748},{"l":46,"b":1,"x":0.99690,"y":0.9980},
{"l":47,"b":0,"x":0.0020,"y":0.00258},{"l":47,"b":0,"x":0.00228,"y":0.00228},{"l":47,"b":0,"x":0.00258,"y":0.0020},
{"l":47,"b":1,"x":0.9980,"y":0.99742},{"l":47,"b":1,"x":0.99772,"y":0.99772},{"l":47,"b":1,"x":0.99742,"y":0.9980},
{"l":48,"b":0,"x":0.0020,"y":0.00212},{"l":48,"b":0,"x":0.00206,"y":0.00206},{"l":48,"b":0,"x":0.00212,"y":0.0020},
{"l":48,"b":1,"x":0.9980,"y":0.99788},{"l":48,"b":1,"x":0.99794,"y":0.99794},{"l":48,"b":1,"x":0.99788,"y":0.9980}
]},
"mark":{"type":"line","interpolate":"monotone","strokeWidth":2,"clip":true},
"encoding":{
"x":{"field":"x","type":"quantitative","scale":{"domain":[0.002,0.998],"nice":false,"zero":false},"axis":{"values":[0.2,0.4,0.6,0.8],"format":".1f","title":"q1","titlePadding":3}},
"y":{"field":"y","type":"quantitative","scale":{"domain":[0.002,0.998],"nice":false,"zero":false},"axis":{"values":[0.2,0.4,0.6,0.8],"format":".1f","title":"q2","titlePadding":6}},
"color":{"field":"l","type":"quantitative","scale":{"scheme":"viridis","domain":[1,48]},"legend":null},
"detail":[{"field":"l","type":"quantitative"},{"field":"b","type":"nominal"}]
}
}
